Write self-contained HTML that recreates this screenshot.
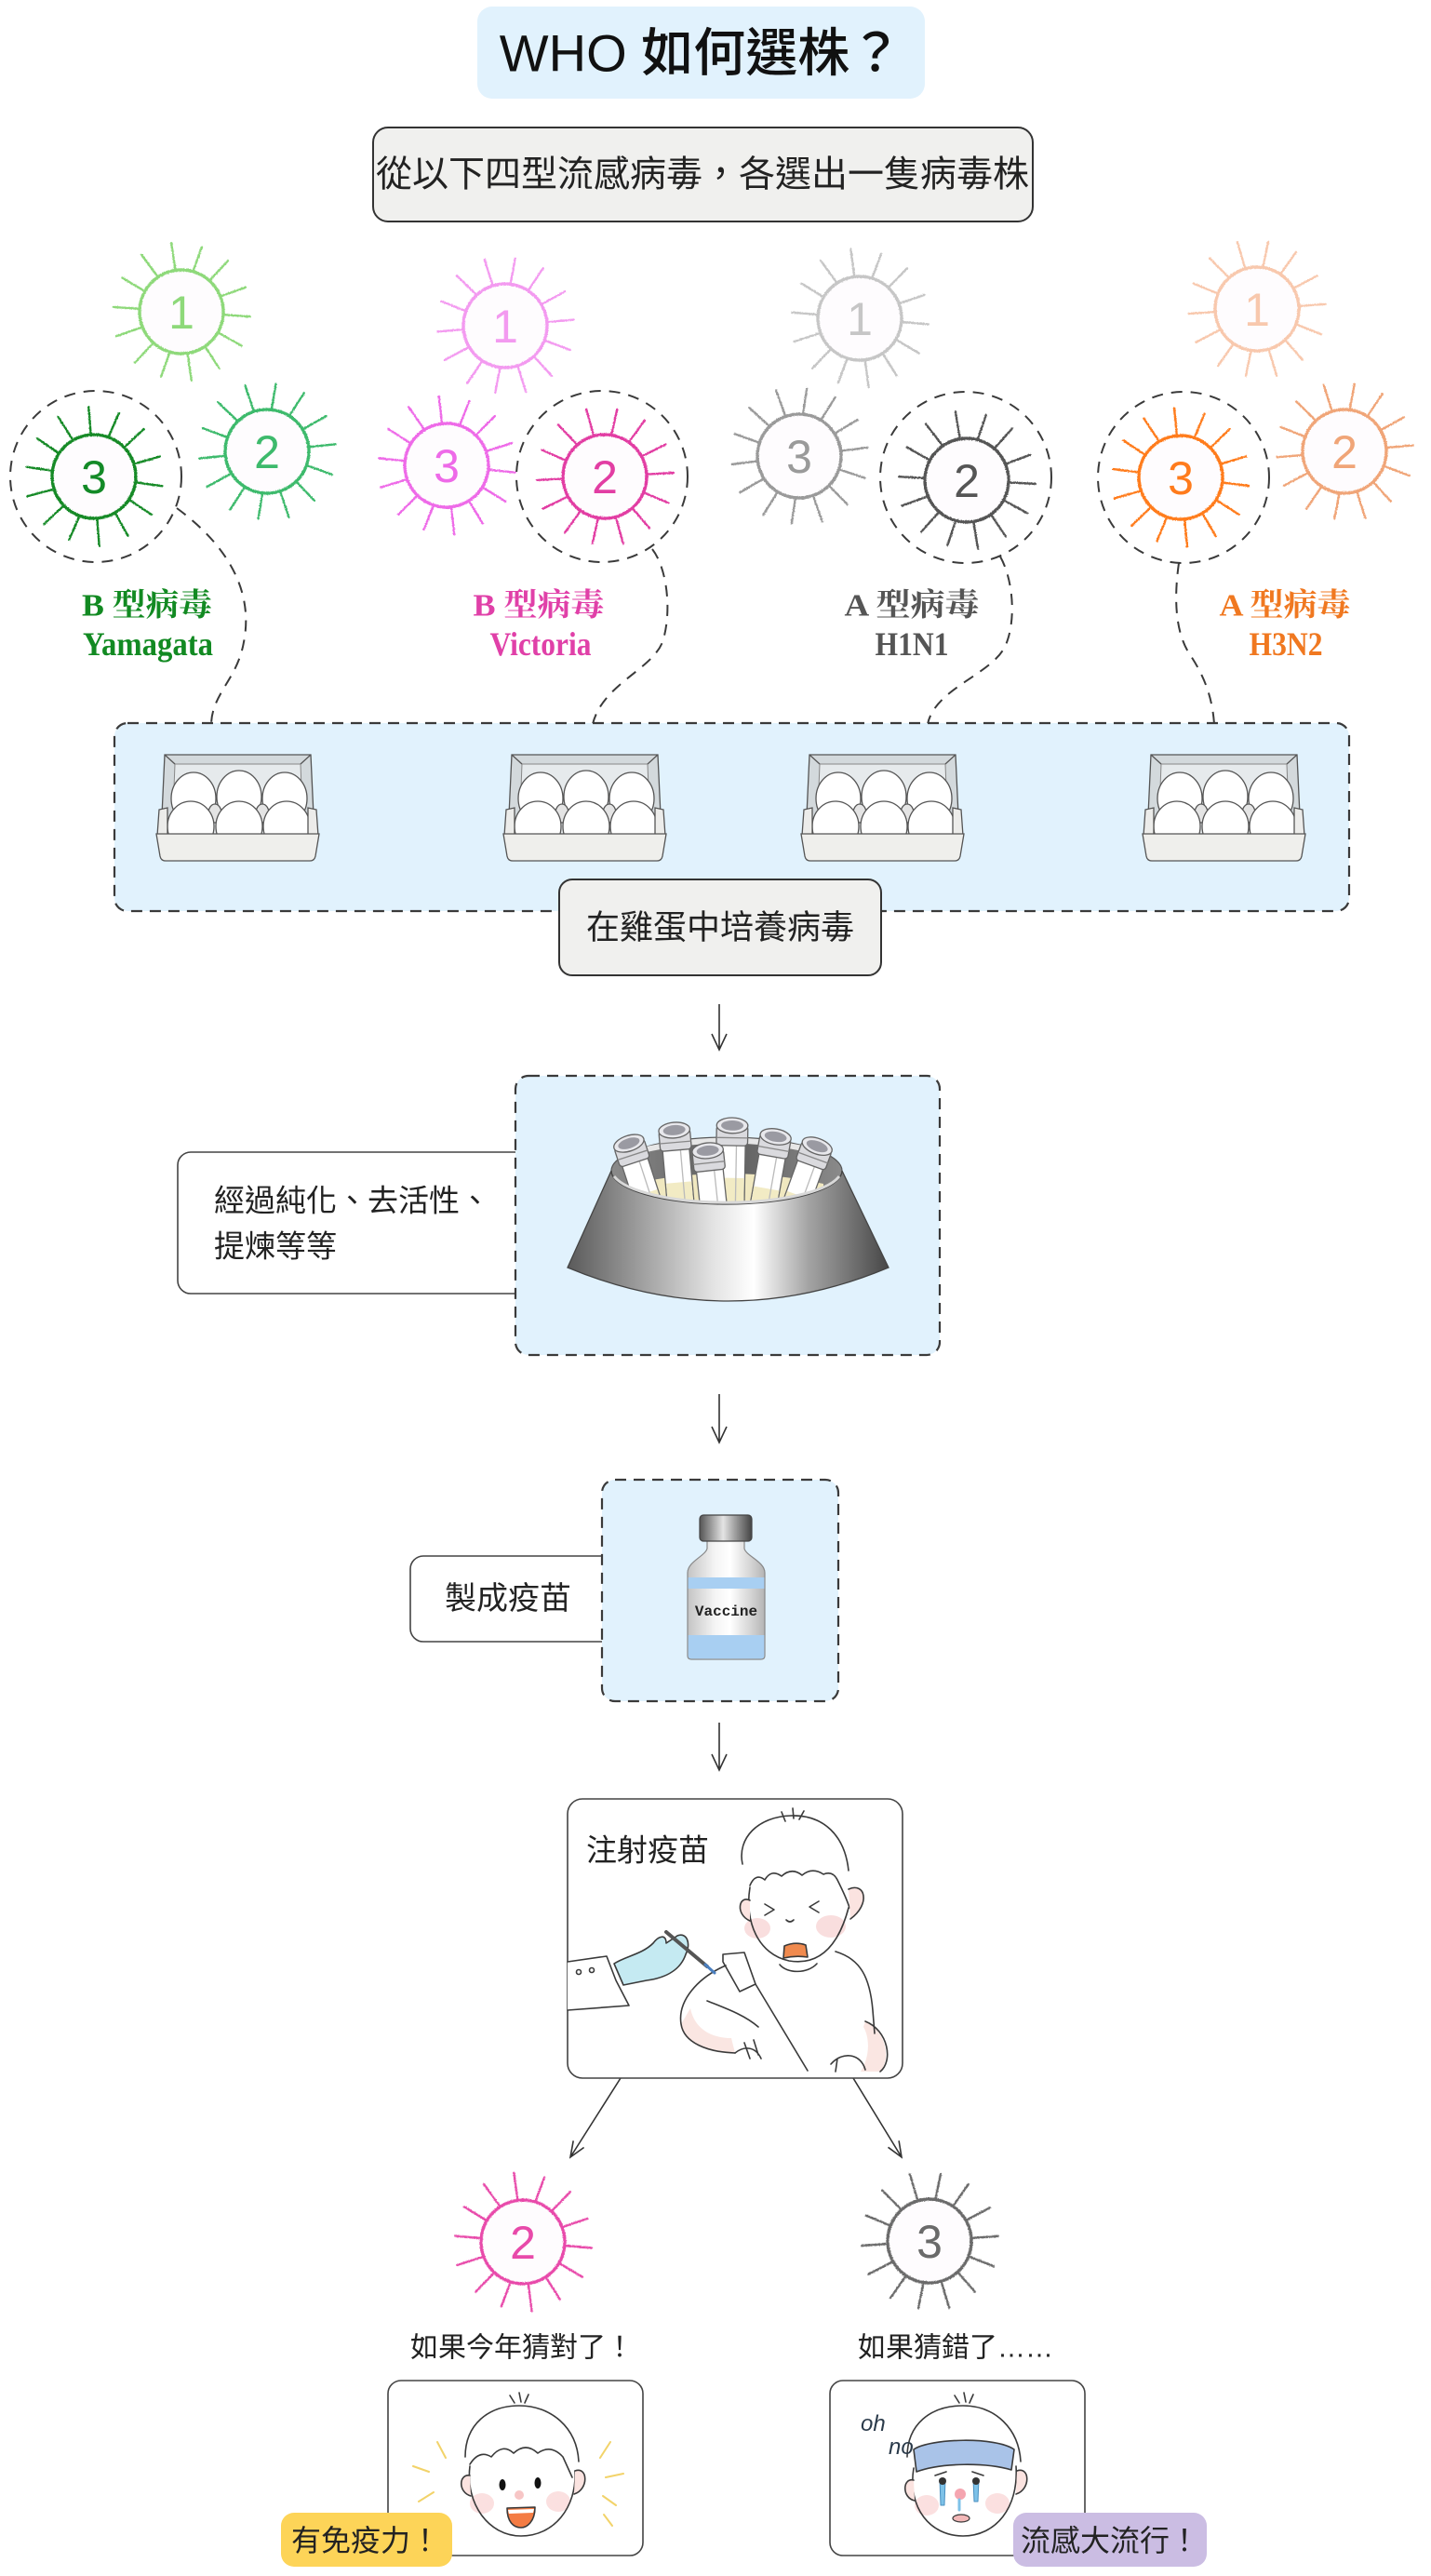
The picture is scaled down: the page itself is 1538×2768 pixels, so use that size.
<!DOCTYPE html>
<html>
<head>
<meta charset="utf-8">
<style>
html,body{margin:0;padding:0;background:#fff;}
svg{display:block;}
.s{font-family:"Liberation Sans","Noto Sans CJK TC",sans-serif;}
.sf{font-family:"Liberation Serif","Noto Serif CJK SC",serif;font-weight:bold;}
.num{font-family:"Liberation Sans",sans-serif;}
.mono{font-family:"Liberation Mono",monospace;font-weight:bold;}
</style>
</head>
<body>
<svg width="1538" height="2768" viewBox="0 0 1538 2768" xmlns="http://www.w3.org/2000/svg">
<defs>
  <filter id="rough" x="-20%" y="-20%" width="140%" height="140%">
    <feTurbulence type="fractalNoise" baseFrequency="0.9" numOctaves="1" seed="3" result="n"/>
    <feDisplacementMap in="SourceGraphic" in2="n" scale="2.2" xChannelSelector="R" yChannelSelector="G"/>
  </filter>
  <g id="vr" fill="none" stroke-linecap="round">
    <path stroke-width="2.4" d="M46,0L74,0M42,20L67,32M29,37L45,58M10,46L16,73M-10,46L-17,71M-29,37L-46,58M-42,20L-68,31M-46,0L-73,0M-42,-20L-66,-32M-29,-37L-47,-58M-10,-46L-16,-73M10,-46L17,-71M29,-37L46,-58M42,-20L67,-31"/>
    <circle r="45" fill="#fefcfe" stroke-width="3.4"/>
  </g>
  <linearGradient id="cone" x1="610" y1="0" x2="955" y2="0" gradientUnits="userSpaceOnUse">
    <stop offset="0" stop-color="#5a5a5a"/>
    <stop offset="0.22" stop-color="#9c9c9c"/>
    <stop offset="0.45" stop-color="#e2e2e2"/>
    <stop offset="0.58" stop-color="#ffffff"/>
    <stop offset="0.75" stop-color="#a4a4a4"/>
    <stop offset="1" stop-color="#474747"/>
  </linearGradient>
  <linearGradient id="inner" x1="0" y1="0" x2="1" y2="0">
    <stop offset="0" stop-color="#8a8a8a"/>
    <stop offset="0.5" stop-color="#5e5e5e"/>
    <stop offset="1" stop-color="#8a8a8a"/>
  </linearGradient>
  <linearGradient id="capg" x1="0" y1="0" x2="1" y2="0">
    <stop offset="0" stop-color="#555"/>
    <stop offset="0.45" stop-color="#e4e4e4"/>
    <stop offset="0.7" stop-color="#999"/>
    <stop offset="1" stop-color="#444"/>
  </linearGradient>
  <linearGradient id="glass" x1="0" y1="0" x2="1" y2="0">
    <stop offset="0" stop-color="#c4c4c4"/>
    <stop offset="0.35" stop-color="#f4f4f4"/>
    <stop offset="0.55" stop-color="#ffffff"/>
    <stop offset="0.85" stop-color="#cfcfcf"/>
    <stop offset="1" stop-color="#b4b4b4"/>
  </linearGradient>
  <g id="carton" stroke="#555" stroke-width="1.3">
    <path d="M9,3 L166,3 L170,90 L5,90 Z" fill="#d3d9dc"/>
    <path d="M20,13 L155,13 L158,90 L17,90 Z" fill="#e6eaec" stroke="#888" stroke-width="1"/>
    <path d="M9,3 L20,13 M166,3 L155,13" fill="none"/>
    <ellipse cx="40" cy="50" rx="24" ry="28" fill="#fff"/>
    <ellipse cx="89" cy="48" rx="24" ry="28" fill="#fff"/>
    <ellipse cx="138" cy="50" rx="24" ry="28" fill="#fff"/>
    <ellipse cx="63" cy="66" rx="7" ry="10" fill="#e4e4e4"/>
    <ellipse cx="114" cy="66" rx="7" ry="10" fill="#e4e4e4"/>
    <ellipse cx="37" cy="80" rx="25" ry="27" fill="#fff"/>
    <ellipse cx="89" cy="80" rx="25" ry="27" fill="#fff"/>
    <ellipse cx="140" cy="80" rx="25" ry="27" fill="#fff"/>
    <path d="M3,62 L12,60 L12,90 L1,90 Z" fill="#ececea"/>
    <path d="M172,62 L163,60 L163,90 L174,90 Z" fill="#ececea"/>
    <path d="M0,88 L175,88 L171,112 Q170,117 165,117 L10,117 Q5,117 4,112 Z" fill="#efefec"/>
  </g>
  <g id="tube" stroke="#666" stroke-width="1.1">
    <rect x="-12" y="4" width="24" height="75" fill="#fff"/>
    <rect x="-11.4" y="44" width="22.8" height="35" fill="#f2ebc4" stroke="none"/>
    <line x1="4" y1="14" x2="4" y2="79" stroke="#bbb"/>
    <rect x="-14" y="-3" width="28" height="18" rx="3" fill="#dadade"/>
    <line x1="-14" y1="8" x2="14" y2="8" stroke="#888"/>
    <ellipse cx="0" cy="-3" rx="14" ry="7" fill="#e8e8ec"/>
    <ellipse cx="0" cy="-3" rx="10" ry="4.5" fill="#9a9aa2" stroke="none"/>
  </g>
</defs>

<!-- Title -->
<rect x="513" y="7" width="481" height="99" rx="16" fill="#e1f2fd"/>
<text class="s" x="753" y="57" font-size="56" font-weight="500" text-anchor="middle" dominant-baseline="central" fill="#111">WHO 如何選株？</text>

<!-- Subtitle -->
<rect x="401" y="137" width="709" height="101" rx="16" fill="#f0f0ee" stroke="#333" stroke-width="2"/>
<text class="s" x="755" y="188" font-size="39" text-anchor="middle" dominant-baseline="central" fill="#222">從以下四型流感病毒，各選出一隻病毒株</text>

<!-- Viruses -->
<g filter="url(#rough)">
  <use href="#vr" transform="translate(195,335) rotate(4)" stroke="#8ed97a"/>
  <use href="#vr" transform="translate(287,485) rotate(-6)" stroke="#3dba6c"/>
  <use href="#vr" transform="translate(101,512) rotate(8)" stroke="#138a27"/>

  <use href="#vr" transform="translate(543,350) rotate(-5)" stroke="#f39af0"/>
  <use href="#vr" transform="translate(480,500) rotate(6)" stroke="#ee6ae8"/>
  <use href="#vr" transform="translate(650,512) rotate(-3)" stroke="#e23ea3"/>

  <use href="#vr" transform="translate(924,342) rotate(5)" stroke="#c6c6c6"/>
  <use href="#vr" transform="translate(859,490) rotate(-7)" stroke="#9a9a9a"/>
  <use href="#vr" transform="translate(1039,516) rotate(3)" stroke="#555555"/>

  <use href="#vr" transform="translate(1351,332) rotate(-4)" stroke="#f8c8ad"/>
  <use href="#vr" transform="translate(1269,513) rotate(7)" stroke="#ff7b1c"/>
  <use href="#vr" transform="translate(1445,485) rotate(-5)" stroke="#f0a578"/>

  <use href="#vr" transform="translate(562,2409) rotate(5)" stroke="#e84aaa"/>
  <use href="#vr" transform="translate(999,2408) rotate(-4)" stroke="#6a6a6a"/>
</g>
<g class="num" font-size="50" text-anchor="middle" dominant-baseline="central">
  <text x="195" y="336" fill="#8ed97a">1</text>
  <text x="287" y="486" fill="#3dba6c">2</text>
  <text x="101" y="513" fill="#138a27">3</text>
  <text x="543" y="351" fill="#f39af0">1</text>
  <text x="480" y="501" fill="#ee6ae8">3</text>
  <text x="650" y="513" fill="#e23ea3">2</text>
  <text x="924" y="343" fill="#c6c6c6">1</text>
  <text x="859" y="491" fill="#9a9a9a">3</text>
  <text x="1039" y="517" fill="#555555">2</text>
  <text x="1351" y="333" fill="#f8c8ad">1</text>
  <text x="1269" y="514" fill="#ff7b1c">3</text>
  <text x="1445" y="486" fill="#f0a578">2</text>
  <text x="562" y="2410" fill="#e84aaa">2</text>
  <text x="999" y="2409" fill="#6a6a6a">3</text>
</g>

<!-- Dashed selection circles & connectors -->
<g fill="none" stroke="#3a3a3a" stroke-width="2" stroke-dasharray="12 9">
  <circle cx="103" cy="512" r="92"/>
  <circle cx="647" cy="512" r="92"/>
  <circle cx="1038" cy="513" r="92"/>
  <circle cx="1272" cy="513" r="92"/>
  <path d="M190,546 C250,590 272,640 262,690 C255,730 228,745 227,778"/>
  <path d="M701,590 C718,612 722,660 712,690 C700,720 648,735 637,778"/>
  <path d="M1075,598 C1090,625 1092,670 1080,695 C1065,725 1005,740 997,778"/>
  <path d="M1267,605 C1262,640 1262,680 1280,705 C1295,728 1303,750 1305,778"/>
</g>

<!-- Labels -->
<g class="sf" text-anchor="middle" dominant-baseline="central">
  <text x="158" y="651" font-size="34" fill="#128a22" textLength="140" lengthAdjust="spacingAndGlyphs">B 型病毒</text>
  <text x="159" y="692" font-size="36" fill="#128a22" textLength="140" lengthAdjust="spacingAndGlyphs">Yamagata</text>
  <text x="579" y="651" font-size="34" fill="#e040a8" textLength="141" lengthAdjust="spacingAndGlyphs">B 型病毒</text>
  <text x="581" y="692" font-size="36" fill="#e040a8" textLength="109" lengthAdjust="spacingAndGlyphs">Victoria</text>
  <text x="980" y="651" font-size="34" fill="#555" textLength="145" lengthAdjust="spacingAndGlyphs">A 型病毒</text>
  <text x="980" y="692" font-size="36" fill="#555" textLength="79" lengthAdjust="spacingAndGlyphs">H1N1</text>
  <text x="1381" y="651" font-size="34" fill="#f07820" textLength="141" lengthAdjust="spacingAndGlyphs">A 型病毒</text>
  <text x="1382" y="692" font-size="36" fill="#f07820" textLength="79" lengthAdjust="spacingAndGlyphs">H3N2</text>
</g>

<!-- Egg container -->
<rect x="123" y="777" width="1327" height="202" rx="14" fill="#e1f2fd" stroke="#3a3a3a" stroke-width="2.2" stroke-dasharray="12 8"/>
<use href="#carton" transform="translate(168,808)"/>
<use href="#carton" transform="translate(541,808)"/>
<use href="#carton" transform="translate(861,808)"/>
<use href="#carton" transform="translate(1228,808)"/>

<rect x="601" y="945" width="346" height="103" rx="14" fill="#f0f0ee" stroke="#333" stroke-width="2"/>
<text class="s" x="774" y="996" font-size="36" text-anchor="middle" dominant-baseline="central" fill="#222">在雞蛋中培養病毒</text>

<!-- Arrows -->
<g fill="none" stroke="#333" stroke-width="1.6">
  <path d="M773,1079 L773,1128 M765,1111 L773,1128 L781,1111"/>
  <path d="M773,1498 L773,1550 M765,1533 L773,1550 L781,1533"/>
  <path d="M773,1851 L773,1902 M765,1885 L773,1902 L781,1885"/>
  <path d="M667,2233 L613,2318 M627.6,2307.5 L613,2318 L616.2,2300.3"/>
  <path d="M917,2233 L969,2318 M966.1,2300.2 L969,2318 L954.5,2307.3"/>
</g>

<!-- Purification step -->
<rect x="191" y="1238" width="380" height="152" rx="14" fill="#fff" stroke="#444" stroke-width="1.6"/>
<text class="s" x="230" y="1290" font-size="33" dominant-baseline="central" fill="#222">經過純化、去活性、</text>
<text class="s" x="230" y="1339" font-size="33" dominant-baseline="central" fill="#222">提煉等等</text>
<rect x="554" y="1156" width="456" height="300" rx="14" fill="#e1f2fd" stroke="#3a3a3a" stroke-width="2.2" stroke-dasharray="12 8"/>

<!-- Centrifuge -->
<ellipse cx="781" cy="1258" rx="124" ry="36" fill="url(#inner)" stroke="#555" stroke-width="1.2"/>
<path d="M690,1236 Q781,1215 872,1236" fill="none" stroke="#e6e6e6" stroke-width="6"/>
<path d="M680,1272 Q781,1250 885,1272 L885,1290 Q781,1300 680,1290 Z" fill="#f0e8c0"/>
<use href="#tube" transform="translate(677,1232) rotate(-18) scale(1.2)"/>
<use href="#tube" transform="translate(725,1218) rotate(-5) scale(1.2)"/>
<use href="#tube" transform="translate(787,1213) rotate(1) scale(1.2)"/>
<use href="#tube" transform="translate(833,1225) rotate(10) scale(1.2)"/>
<use href="#tube" transform="translate(877,1235) rotate(20) scale(1.2)"/>
<use href="#tube" transform="translate(761,1240) rotate(-6) scale(1.2)"/>
<path d="M657,1258 L610,1362 Q783,1434 955,1362 L905,1258 A124,36 0 0 1 657,1258 Z" fill="url(#cone)" stroke="#444" stroke-width="1.3"/>
<path d="M660,1264 A124,36 0 0 0 902,1264" fill="none" stroke="#d8d8d8" stroke-width="3"/>

<!-- Vaccine step -->
<rect x="441" y="1672" width="225" height="92" rx="14" fill="#fff" stroke="#444" stroke-width="1.6"/>
<text class="s" x="546" y="1718" font-size="34" text-anchor="middle" dominant-baseline="central" fill="#222">製成疫苗</text>
<rect x="647" y="1590" width="254" height="238" rx="14" fill="#e1f2fd" stroke="#3a3a3a" stroke-width="2.2" stroke-dasharray="12 8"/>
<path d="M760,1655 L800,1655 L800,1664 C802,1672 822,1678 822,1690 L822,1779 Q822,1783 818,1783 L743,1783 Q739,1783 739,1779 L739,1690 C739,1678 758,1672 760,1664 Z" fill="url(#glass)" stroke="#888" stroke-width="1.2"/>
<rect x="739.6" y="1695" width="81.8" height="12" fill="#a8cff2"/>
<path d="M739.6,1757 L821.4,1757 L821.4,1779 Q821.4,1782.4 818,1782.4 L743,1782.4 Q739.6,1782.4 739.6,1779 Z" fill="#a8cff2"/>
<rect x="752" y="1628" width="56" height="28" rx="4" fill="url(#capg)" stroke="#444" stroke-width="1.2"/>
<text class="mono" x="780.5" y="1732" font-size="16" text-anchor="middle" dominant-baseline="central" fill="#222">Vaccine</text>

<!-- Injection panel -->
<rect x="610" y="1933" width="360" height="300" rx="16" fill="#fff" stroke="#444" stroke-width="1.6"/>
<text class="s" x="630" y="1988" font-size="33" dominant-baseline="central" fill="#222">注射疫苗</text>
<g fill="none" stroke="#3a3a3a" stroke-width="1.6" stroke-linecap="round" stroke-linejoin="round">
  <path d="M732,2175 C735,2195 760,2205 790,2206 L786,2190 C762,2190 746,2178 742,2158 Z" fill="#fae6e2" stroke="none"/>
  <path d="M930,2172 C952,2182 958,2212 946,2226 L925,2226 C935,2210 935,2190 928,2178 Z" fill="#fae6e2" stroke="none"/>
  <ellipse cx="814" cy="2072" rx="14" ry="11" fill="#f9dede" stroke="none"/>
  <ellipse cx="893" cy="2070" rx="16" ry="12" fill="#f9dede" stroke="none"/>
  <path d="M798,2003 C792,1975 815,1952 850,1951 C885,1950 908,1972 912,2010"/>
  <path d="M840,1947 L844,1957 M852,1943 L853,1954 M864,1946 L859,1955"/>
  <path d="M806,2026 Q812,2012 822,2020 Q829,2008 840,2016 Q851,2006 862,2015 Q873,2006 885,2014 Q895,2010 900,2020 C905,2030 910,2040 913,2050"/>
  <path d="M806,2028 C800,2065 815,2100 848,2107 C878,2112 900,2095 912,2050"/>
  <path d="M806,2042 C794,2036 790,2057 806,2064" fill="#fbe3e0"/>
  <path d="M912,2030 C930,2022 936,2046 914,2062" fill="#fbe3e0"/>
  <path d="M822,2046 L832,2052 L822,2058 M880,2043 L870,2049 L880,2055"/>
  <path d="M845,2063 Q849,2067 853,2063"/>
  <path d="M843,2091 Q855,2086 866,2090 L868,2103 Q855,2101 842,2104 Z" fill="#f08a4e"/>
  <path d="M838,2111 C846,2121 868,2121 878,2110"/>
  <path d="M898,2097 C925,2105 935,2125 938,2160 L940,2185"/>
  <path d="M930,2172 C955,2182 960,2215 946,2226"/>
  <path d="M893,2218 C905,2204 925,2206 930,2224 M900,2212 L898,2226"/>
  <path d="M777,2100 L800,2098 L812,2132 L795,2140 L777,2108 Z" fill="#fff"/>
  <path d="M780,2112 C750,2125 728,2150 732,2175 C735,2195 760,2205 790,2206"/>
  <path d="M760,2150 C780,2158 800,2165 815,2178"/>
  <path d="M790,2206 C800,2198 812,2199 818,2212 M800,2195 L806,2212 M810,2192 L815,2208"/>
  <path d="M812,2132 L868,2225"/>
  <path d="M610,2108 L652,2102 L662,2128 L676,2155 L610,2160" fill="#fff"/>
  <circle cx="622" cy="2119" r="2.5"/>
  <circle cx="636" cy="2117" r="2.5"/>
  <path d="M660,2110 C672,2102 690,2100 702,2088 C708,2080 716,2078 716,2088 L728,2080 C738,2076 743,2088 737,2100 C732,2115 718,2125 695,2128 L670,2133 Z" fill="#c5eaf2"/>
  <path d="M716,2076 L760,2113" stroke="#555" stroke-width="4"/>
  <path d="M758,2111 L768,2120" stroke="#4a7fc0" stroke-width="3"/>
</g>

<!-- Outcome texts -->
<text class="s" x="441" y="2523" font-size="30" dominant-baseline="central" fill="#222">如果今年猜對了！</text>
<text class="s" x="922" y="2523" font-size="30" dominant-baseline="central" fill="#222">如果猜錯了……</text>

<!-- Left face panel -->
<rect x="417" y="2558" width="274" height="188" rx="14" fill="#fff" stroke="#444" stroke-width="1.6"/>
<g fill="none" stroke-linecap="round" stroke-linejoin="round">
  <g stroke="#f2d36a" stroke-width="2">
    <path d="M470,2624 L479,2641 M444,2650 L461,2656 M450,2688 L466,2678 M656,2624 L645,2641 M670,2658 L651,2662 M662,2692 L648,2682 M658,2714 L649,2702"/>
  </g>
  <ellipse cx="518" cy="2690" rx="13" ry="11" fill="#fbe0e0"/>
  <ellipse cx="600" cy="2688" rx="13" ry="11" fill="#fbe0e0"/>
  <g stroke="#3a3a3a" stroke-width="1.6">
    <path d="M500,2640 C500,2605 525,2585 558,2585 C592,2585 620,2608 622,2645"/>
    <path d="M548,2574 L553,2582 M558,2571 L560,2581 M568,2573 L564,2582"/>
    <path d="M505,2648 Q515,2632 528,2640 Q540,2625 552,2636 Q565,2624 578,2636 Q592,2626 605,2640 L615,2662"/>
    <path d="M505,2650 C500,2690 525,2725 560,2725 C595,2725 620,2695 618,2655"/>
    <path d="M505,2660 C493,2658 492,2678 506,2682" fill="#fbe3e0"/>
    <path d="M618,2655 C632,2650 633,2675 617,2680" fill="#fbe3e0"/>
    <path d="M545,2695 L575,2694 C575,2710 566,2716 560,2716 C552,2716 545,2710 545,2695 Z" fill="#f47c44"/>
    <path d="M546,2697 L574,2696 L573,2700 L547,2701 Z" fill="#fff" stroke="none"/>
  </g>
  <ellipse cx="540" cy="2670" rx="3.5" ry="6" fill="#111"/>
  <ellipse cx="578" cy="2668" rx="3.5" ry="6" fill="#111"/>
  <circle cx="558" cy="2681" r="5" fill="#f7c6c6"/>
</g>
<rect x="302" y="2700" width="184" height="58" rx="14" fill="#fdd458"/>
<text class="s" x="393" y="2730" font-size="32" text-anchor="middle" dominant-baseline="central" fill="#222">有免疫力！</text>

<!-- Right face panel -->
<rect x="892" y="2558" width="274" height="188" rx="14" fill="#fff" stroke="#444" stroke-width="1.6"/>
<g fill="none" stroke-linecap="round" stroke-linejoin="round">
  <ellipse cx="996" cy="2692" rx="13" ry="11" fill="#fbe0e0"/>
  <ellipse cx="1072" cy="2690" rx="13" ry="11" fill="#fbe0e0"/>
  <g stroke="#3a3a3a" stroke-width="1.6">
    <path d="M975,2640 C975,2605 1000,2585 1035,2585 C1070,2585 1095,2610 1097,2645"/>
    <path d="M1026,2574 L1031,2582 M1036,2571 L1038,2581 M1046,2573 L1042,2582"/>
    <path d="M982,2652 C975,2695 1000,2725 1035,2725 C1070,2725 1095,2695 1092,2650"/>
    <path d="M982,2665 C970,2662 969,2684 983,2687" fill="#fbe3e0"/>
    <path d="M1093,2655 C1107,2650 1108,2675 1092,2680" fill="#fbe3e0"/>
    <path d="M982,2632 C1000,2620 1070,2618 1090,2632 L1087,2654 C1060,2646 1012,2646 985,2656 Z" fill="#a9c3e8"/>
    <path d="M1005,2660 L1017,2656 M1045,2656 L1057,2660"/>
  </g>
  <path d="M1010,2664 L1016,2664 L1015,2692 L1011,2692 Z M1046,2664 L1052,2664 L1051,2688 L1047,2688 Z" fill="#7ec2e8" stroke="#4a90c0" stroke-width="1"/>
  <circle cx="1013" cy="2666" r="4" fill="#333"/>
  <circle cx="1049" cy="2666" r="4" fill="#333"/>
  <circle cx="1032" cy="2680" r="6" fill="#f5a5b0"/>
  <path d="M1031,2686 L1031,2697" stroke="#7ec2e8" stroke-width="3"/>
  <ellipse cx="1033" cy="2706" rx="9" ry="4" fill="#f3b8b8" stroke="#3a3a3a" stroke-width="1.2"/>
</g>
<text x="925" y="2612" font-family="'Liberation Sans',sans-serif" font-style="italic" font-size="24" fill="#2a3a4a">oh</text>
<text x="955" y="2637" font-family="'Liberation Sans',sans-serif" font-style="italic" font-size="24" fill="#2a3a4a">no</text>
<rect x="1089" y="2700" width="208" height="58" rx="14" fill="#cbbde3"/>
<text class="s" x="1193" y="2730" font-size="32" text-anchor="middle" dominant-baseline="central" fill="#222">流感大流行！</text>
</svg>
</body>
</html>
